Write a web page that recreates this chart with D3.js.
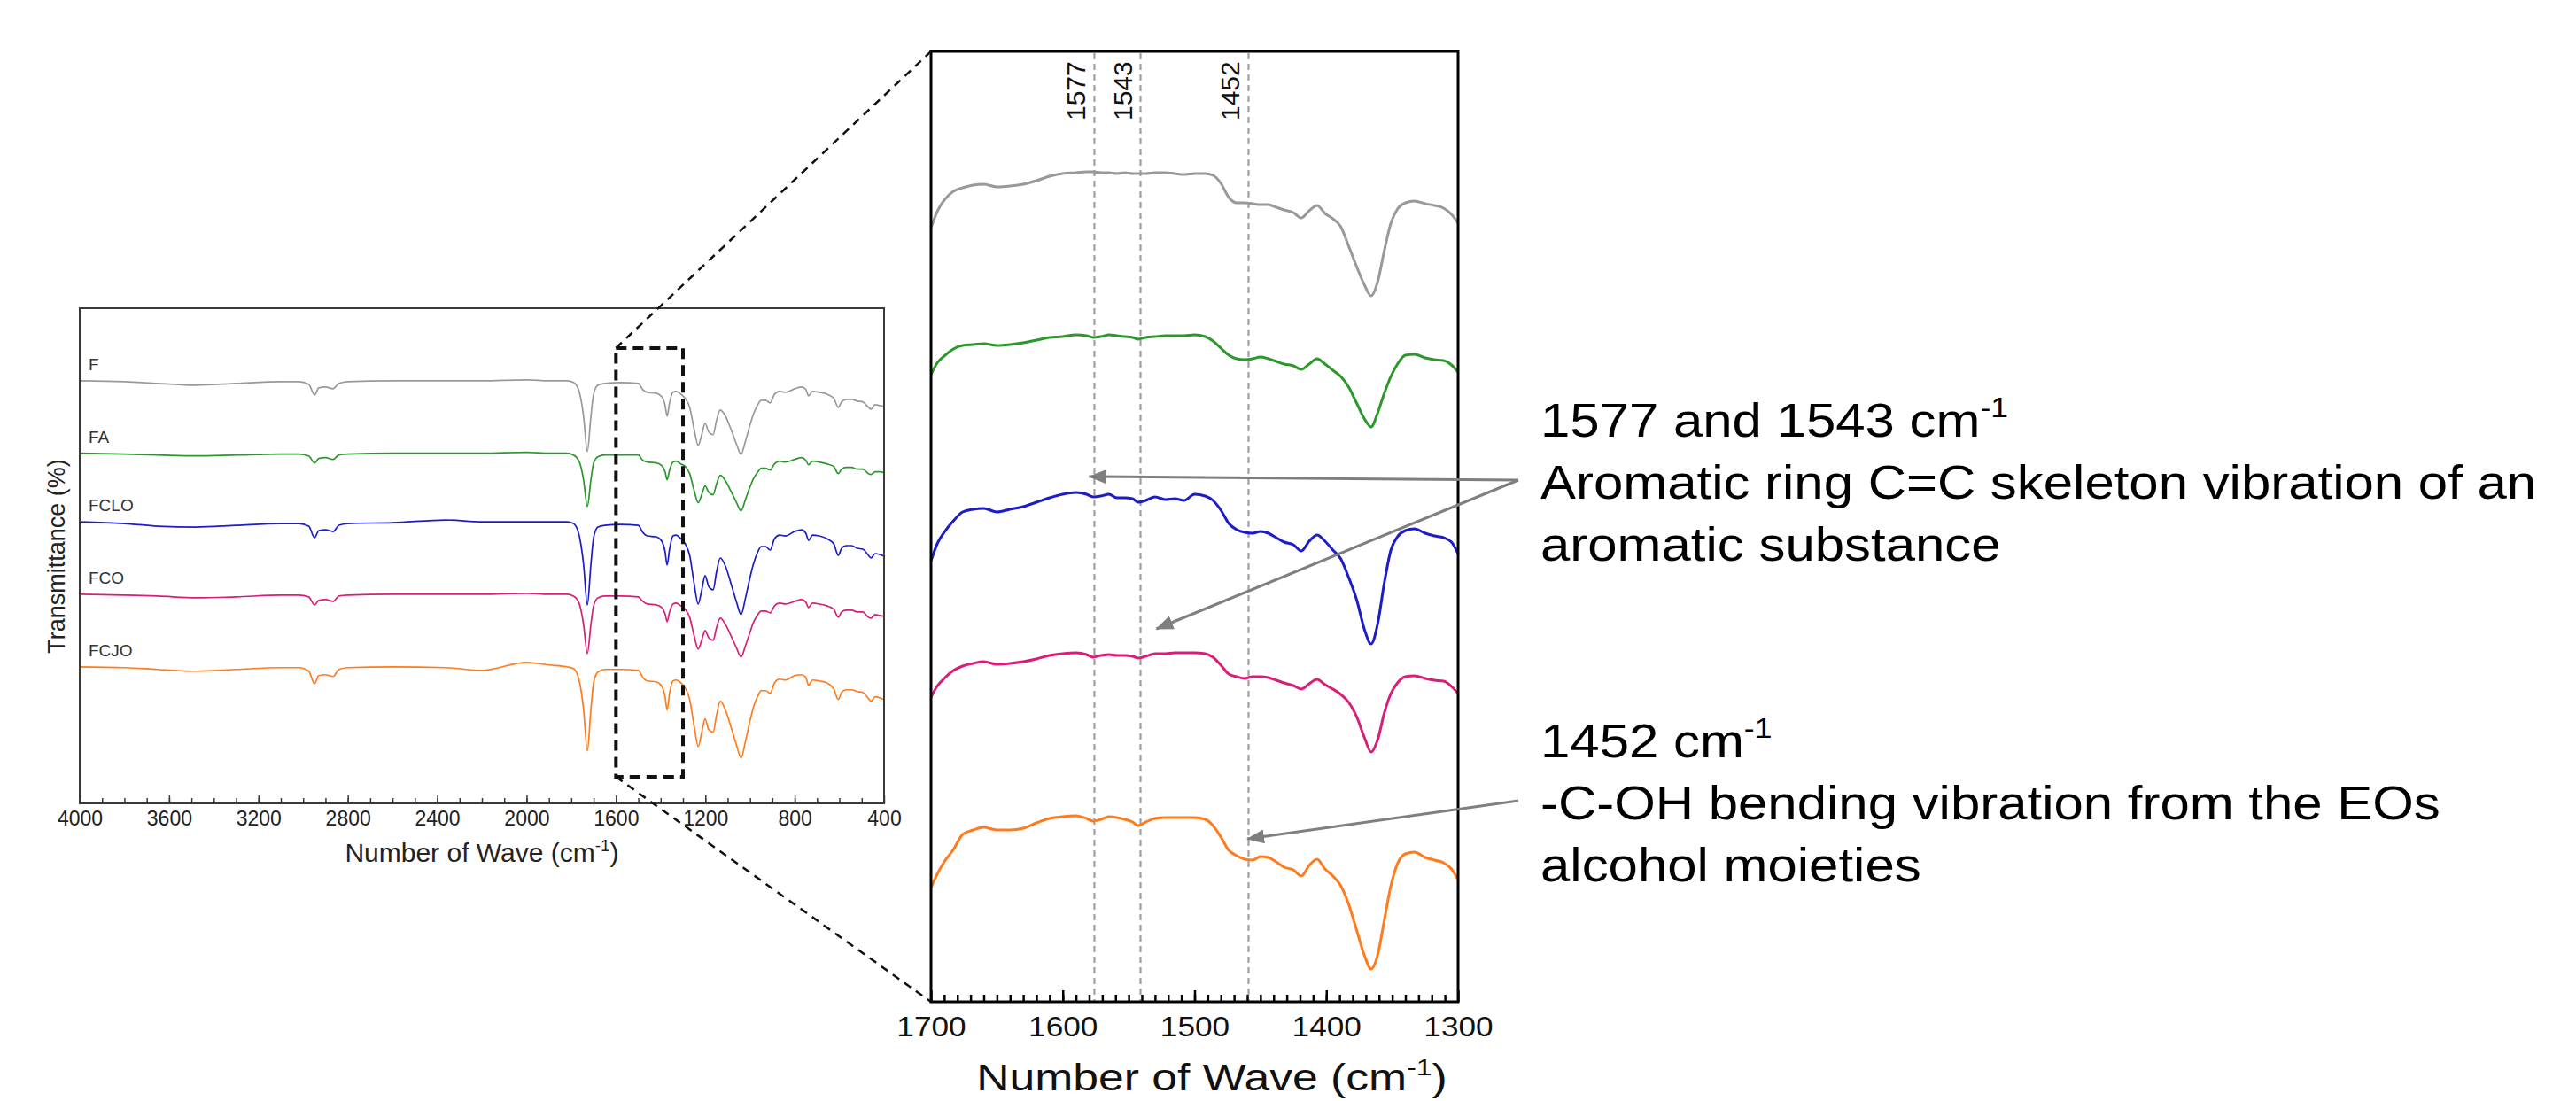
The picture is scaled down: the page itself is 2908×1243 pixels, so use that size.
<!DOCTYPE html>
<html>
<head>
<meta charset="utf-8">
<script src="https://cdn.jsdelivr.net/npm/d3@7"></script>
<style>
  body { margin: 0; background: #fff; }
  text { font-family: "Liberation Sans", Arial, sans-serif; }
</style>
</head>
<body>
<svg id="fig" width="2908" height="1243"></svg>
<script>
// ---- data ----
const seriesNames = ['F', 'FA', 'FCLO', 'FCO', 'FCJO'];
const seriesColors = ['#999999', '#2b982b', '#1c1cc8', '#d81e78', '#ff7b1c'];

// full spectra, 4000-400 cm-1 (stacked transmittance, arbitrary units)
const fullWave = [4000, 3800, 3650, 3480, 3300, 3100, 3020, 2975, 2949, 2930, 2900, 2866, 2840, 2800, 2600,
  2360, 2200, 2000, 1900, 1820, 1790, 1765, 1745, 1728, 1712, 1700, 1681, 1650, 1580, 1500, 1480, 1460, 1420,
  1395, 1380, 1371, 1360, 1345, 1330, 1310, 1290, 1270, 1250, 1232, 1215, 1201, 1185, 1165, 1150, 1133, 1110,
  1085, 1060, 1040, 1020, 1000, 985, 965, 950, 930, 910, 890, 868, 842, 800, 769, 750, 738, 720, 690, 657, 625,
  605, 590, 570, 545, 520, 495, 470, 458, 440, 420, 400];
const fullF = [95.6, 95.4, 95.0, 94.6, 95.0, 95.4, 95.4, 94.8, 92.4, 94.0, 94.2, 93.8, 95.0, 95.4, 95.6,
  95.6, 95.6, 95.8, 95.6, 95.6, 95.2, 93.2, 87.6, 79.6, 87.6, 92.6, 94.6, 95.0, 95.2, 95.0, 93.6, 93.0, 92.8,
  92.0, 90.0, 87.6, 90.6, 93.0, 93.2, 92.6, 91.6, 89.6, 84.6, 81.0, 83.6, 86.0, 84.0, 83.4, 86.6, 89.0, 87.6,
  84.6, 81.2, 79.0, 82.0, 85.6, 88.0, 90.2, 91.2, 91.2, 90.6, 92.6, 93.2, 93.0, 93.8, 94.2, 93.6, 92.2, 93.2,
  93.0, 92.6, 91.6, 89.6, 90.8, 91.4, 91.4, 91.0, 90.8, 89.6, 89.2, 90.2, 90.0, 89.8];
const fullFA = [79.2, 79.0, 78.8, 78.6, 78.8, 79.0, 79.0, 78.6, 77.0, 78.0, 78.2, 77.8, 78.8, 79.0, 79.2,
  79.2, 79.2, 79.4, 79.2, 79.2, 78.8, 77.4, 73.2, 67.2, 73.2, 77.0, 78.4, 78.8, 78.8, 78.8, 77.6, 77.2, 77.0,
  76.4, 75.0, 73.2, 75.4, 77.2, 77.4, 76.8, 76.2, 74.6, 70.8, 68.0, 70.0, 71.8, 70.4, 69.8, 72.2, 74.2, 73.0,
  70.6, 68.0, 66.2, 68.8, 71.6, 73.4, 75.0, 75.8, 75.8, 75.4, 76.8, 77.4, 77.2, 77.8, 78.2, 77.6, 76.6, 77.4,
  77.2, 76.8, 76.2, 74.6, 75.6, 76.0, 76.0, 75.6, 75.6, 74.6, 74.4, 75.0, 75.0, 74.8];
const fullFCLO = [63.7, 63.3, 62.7, 62.5, 62.9, 63.3, 63.3, 62.7, 60.1, 61.7, 61.9, 61.5, 62.9, 63.3, 63.5,
  64.1, 63.7, 63.7, 63.7, 63.7, 63.3, 60.7, 54.1, 44.9, 54.1, 60.1, 62.5, 62.9, 63.1, 62.9, 61.3, 60.5, 60.3,
  59.3, 56.9, 53.9, 57.5, 60.5, 60.7, 59.9, 58.7, 56.1, 49.7, 45.1, 48.5, 51.5, 49.1, 48.3, 52.3, 55.5, 53.7,
  49.7, 45.5, 42.7, 46.5, 51.1, 54.1, 56.9, 58.1, 58.1, 57.3, 59.9, 60.7, 60.5, 61.5, 61.9, 61.1, 59.5, 60.7,
  60.5, 59.9, 58.7, 56.1, 57.7, 58.3, 58.3, 57.7, 57.5, 56.1, 55.5, 56.5, 56.3, 55.9];
const fullFCO = [47.3, 47.1, 46.9, 46.5, 46.7, 47.1, 47.1, 46.7, 44.9, 45.9, 46.1, 45.7, 46.9, 47.1, 47.3,
  47.3, 47.3, 47.5, 47.3, 47.3, 46.9, 45.3, 40.5, 33.9, 40.5, 44.7, 46.5, 46.9, 46.9, 46.7, 45.7, 45.1, 44.9,
  44.3, 42.9, 41.1, 43.3, 45.1, 45.3, 44.7, 43.9, 42.1, 37.9, 34.9, 37.1, 39.1, 37.5, 36.9, 39.7, 41.9, 40.5,
  37.9, 35.1, 33.1, 35.7, 38.7, 40.9, 42.7, 43.5, 43.5, 43.1, 44.7, 45.3, 45.1, 45.7, 46.1, 45.5, 44.3, 45.3,
  45.1, 44.7, 43.9, 42.1, 43.3, 43.7, 43.7, 43.3, 43.3, 42.1, 41.9, 42.7, 42.5, 42.3];
const fullFCJO = [30.9, 30.7, 30.3, 29.9, 30.3, 30.7, 30.7, 29.9, 27.1, 28.9, 29.1, 28.7, 30.3, 30.7, 30.9,
  30.7, 30.1, 31.9, 31.3, 30.9, 30.5, 27.9, 21.3, 11.9, 21.3, 27.3, 29.7, 30.3, 30.3, 30.1, 28.5, 27.7, 27.5,
  26.5, 24.1, 21.1, 24.9, 27.7, 27.9, 27.3, 26.1, 23.5, 17.5, 12.9, 16.3, 19.1, 16.7, 16.1, 19.9, 23.1, 21.1,
  17.3, 13.1, 10.3, 14.1, 18.7, 21.7, 24.3, 25.5, 25.5, 24.9, 27.3, 28.1, 27.9, 28.9, 29.1, 28.5, 26.7, 27.9,
  27.7, 27.3, 25.9, 23.5, 25.1, 25.7, 25.7, 25.3, 25.1, 23.7, 23.1, 24.1, 23.9, 23.5];

// enlarged region, 1700-1300 cm-1
const zoomWave = [1700, 1695, 1690, 1683, 1676, 1668, 1660, 1650, 1640, 1630, 1620, 1610, 1600, 1590, 1582,
  1577, 1571, 1565, 1559, 1553, 1547, 1543, 1537, 1530, 1522, 1515, 1508, 1500, 1492, 1486, 1480, 1474, 1468,
  1462, 1456, 1450, 1444, 1438, 1432, 1425, 1419, 1413, 1407, 1401, 1395, 1389, 1383, 1377, 1371, 1366, 1361,
  1356, 1351, 1346, 1340, 1333, 1325, 1318, 1311, 1305, 1300];
const zoomF = [87.4, 89.3, 90.5, 91.5, 91.9, 92.2, 92.3, 92.0, 92.1, 92.3, 92.7, 93.2, 93.5, 93.6, 93.7,
  93.7, 93.6, 93.6, 93.5, 93.6, 93.5, 93.5, 93.5, 93.6, 93.6, 93.5, 93.4, 93.5, 93.5, 93.3, 92.4, 90.8, 90.2,
  90.2, 90.1, 90.0, 90.0, 89.7, 89.4, 89.1, 88.5, 89.3, 89.9, 89.0, 88.4, 87.5, 85.3, 83.0, 80.9, 79.7, 81.3,
  84.8, 87.9, 89.5, 90.2, 90.4, 90.1, 89.9, 89.6, 88.9, 87.9];
const zoomFA = [70.8, 72.2, 72.9, 73.7, 74.1, 74.2, 74.3, 74.1, 74.2, 74.4, 74.7, 75.0, 75.1, 75.3, 75.2,
  75.0, 75.1, 75.3, 75.2, 75.1, 75.0, 74.8, 75.0, 75.1, 75.2, 75.2, 75.2, 75.3, 75.1, 74.6, 73.8, 73.0, 72.6,
  72.5, 72.6, 72.8, 72.6, 72.3, 72.0, 71.8, 71.4, 72.0, 72.6, 72.0, 71.3, 70.6, 69.4, 67.6, 65.8, 64.9, 66.5,
  68.7, 70.6, 72.0, 73.0, 73.1, 72.7, 72.5, 72.4, 71.9, 71.1];
const zoomFCLO = [49.8, 51.8, 53.0, 54.3, 55.3, 55.6, 55.7, 55.3, 55.6, 55.9, 56.4, 56.9, 57.3, 57.5, 57.3,
  57.0, 57.1, 57.3, 56.9, 56.9, 56.8, 56.4, 56.6, 57.0, 56.7, 56.8, 56.6, 57.3, 57.1, 56.6, 55.5, 54.0, 53.3,
  53.0, 52.9, 53.1, 52.9, 52.4, 51.9, 51.6, 50.9, 52.0, 52.7, 52.0, 51.0, 50.0, 47.9, 45.4, 42.0, 40.4, 42.7,
  47.3, 51.0, 52.5, 53.2, 53.4, 52.9, 52.6, 52.4, 51.9, 50.6];
const zoomFCO = [34.4, 35.7, 36.5, 37.4, 37.9, 38.2, 38.4, 38.1, 38.2, 38.4, 38.7, 39.1, 39.3, 39.4, 39.2,
  38.9, 39.1, 39.2, 39.1, 39.1, 39.0, 38.8, 39.0, 39.3, 39.3, 39.4, 39.4, 39.4, 39.3, 38.9, 38.0, 37.0, 36.7,
  36.5, 36.7, 36.7, 36.6, 36.3, 36.0, 35.7, 35.3, 35.9, 36.4, 35.8, 35.3, 34.7, 33.8, 32.2, 29.8, 28.2, 29.6,
  32.6, 34.8, 36.0, 36.7, 36.8, 36.5, 36.3, 36.2, 35.6, 34.8];
const zoomFCJO = [12.9, 14.5, 15.8, 17.2, 18.9, 19.4, 19.7, 19.4, 19.4, 19.6, 20.2, 20.7, 20.9, 21.0, 20.7,
  20.4, 20.6, 20.9, 20.8, 20.6, 20.3, 19.9, 20.3, 20.7, 20.8, 20.8, 20.8, 20.8, 20.6, 19.9, 18.6, 17.1, 16.5,
  16.1, 16.0, 16.4, 16.3, 15.8, 15.2, 14.9, 14.2, 15.4, 16.1, 15.0, 14.2, 13.1, 11.0, 8.1, 5.2, 3.7, 5.3,
  9.2, 13.1, 15.6, 16.7, 16.9, 16.3, 16.0, 15.7, 15.0, 13.8];

const fullTicks = [4000, 3600, 3200, 2800, 2400, 2000, 1600, 1200, 800, 400];
const zoomTicks = [1700, 1600, 1500, 1400, 1300];
const boxRange = [1600, 1300];
const markerWave = [1576, 1541, 1459];
const markerLabels = ['1577', '1543', '1452'];

const noteHeads = ['1577 and 1543 cm', '1452 cm'];
const noteBodies = [
  ['Aromatic ring C=C skeleton vibration of an', 'aromatic substance'],
  ['-C-OH bending vibration from the EOs', 'alcohol moieties']
];
// arrow targets in the enlarged chart (wavenumber, y units); which note each belongs to
const arrowWave = [1580, 1529, 1460];
const arrowY = [59.3, 42.1, 18.4];
const arrowNote = [0, 0, 1];

const fullSeries = [fullF, fullFA, fullFCLO, fullFCO, fullFCJO];
const zoomSeries = [zoomF, zoomFA, zoomFCLO, zoomFCO, zoomFCJO];

// ---- drawing ----
const svg = d3.select('#fig');
const grey = '#7f7f7f';

svg.append('defs').append('marker')
  .attr('id', 'head')
  .attr('markerUnits', 'userSpaceOnUse')
  .attr('viewBox', '0 0 20 16')
  .attr('markerWidth', 20)
  .attr('markerHeight', 16)
  .attr('refX', 19)
  .attr('refY', 8)
  .attr('orient', 'auto')
  .append('path')
  .attr('d', 'M0,0 L20,8 L0,16 Z')
  .attr('fill', grey);

// left overview chart
const xFull = d3.scaleLinear().domain([4000, 400]).range([90, 998]);
const yFull = d3.scaleLinear().domain([0, 112]).range([907, 348]);

const left = svg.append('g').attr('class', 'overview');

const fullLine = d3.line()
  .x((d, i) => xFull(fullWave[i]))
  .y(d => yFull(d))
  .curve(d3.curveMonotoneX);

left.selectAll('.spec')
  .data(fullSeries)
  .enter().append('path')
  .attr('class', 'spec')
  .attr('d', fullLine)
  .attr('fill', 'none')
  .attr('stroke', (d, i) => seriesColors[i])
  .attr('stroke-width', 1.7);

// series labels sit just above each baseline
left.selectAll('.lab')
  .data(fullSeries)
  .enter().append('text')
  .attr('class', 'lab')
  .attr('x', xFull(4000) + 10)
  .attr('y', d => yFull(d[0]) - 12)
  .attr('font-size', 19)
  .attr('fill', '#333')
  .text((d, i) => seriesNames[i]);

left.append('rect')
  .attr('x', 90).attr('y', 348)
  .attr('width', 908).attr('height', 559)
  .attr('fill', 'none')
  .attr('stroke', '#3a3a3a')
  .attr('stroke-width', 2);

const axFull = left.append('g')
  .attr('transform', 'translate(0,907)')
  .call(d3.axisBottom(xFull).tickValues(fullTicks).tickSize(-9).tickPadding(9).tickFormat(d3.format('d')));
left.append('g')
  .attr('transform', 'translate(0,907)')
  .call(d3.axisBottom(xFull).tickValues(d3.range(3900, 400, -100)).tickSize(-6).tickFormat(''))
  .call(g => g.select('.domain').remove());
axFull.select('.domain').remove();
axFull.selectAll('text').attr('font-size', 23).attr('fill', '#222')
  .attr('font-family', '"Liberation Sans", Arial, sans-serif');
left.selectAll('.tick line').attr('stroke', '#3a3a3a').attr('stroke-width', 1.5);

const lt = left.append('text')
  .attr('x', 544).attr('y', 973)
  .attr('text-anchor', 'middle')
  .attr('font-size', 30)
  .attr('fill', '#222');
lt.append('tspan').text('Number of Wave (cm');
lt.append('tspan').attr('dy', -12).attr('font-size', 19).text('-1');
lt.append('tspan').attr('dy', 12).text(')');

left.append('text')
  .attr('transform', 'translate(73,628) rotate(-90)')
  .attr('text-anchor', 'middle')
  .attr('font-size', 27)
  .attr('fill', '#222')
  .text('Transmittance (%)');

// right enlarged chart
const xZoom = d3.scaleLinear().domain([1700, 1300]).range([1051, 1646]);
const yZoom = d3.scaleLinear().domain([0, 107.3]).range([1131, 58]);
const right = svg.append('g').attr('class', 'zoom');

right.selectAll('.mark')
  .data(markerWave)
  .enter().append('line')
  .attr('class', 'mark')
  .attr('x1', d => xZoom(d)).attr('x2', d => xZoom(d))
  .attr('y1', 60).attr('y2', 1131)
  .attr('stroke', '#a0a0a0')
  .attr('stroke-width', 2.2)
  .attr('stroke-dasharray', '7,5');

right.selectAll('.markLab')
  .data(markerWave)
  .enter().append('text')
  .attr('class', 'markLab')
  .attr('transform', d => `translate(${xZoom(d) - 10},136) rotate(-90)`)
  .attr('font-size', 30)
  .attr('fill', '#111')
  .text((d, i) => markerLabels[i]);

const zoomLine = d3.line()
  .x((d, i) => xZoom(zoomWave[i]))
  .y(d => yZoom(d))
  .curve(d3.curveMonotoneX);

right.selectAll('.spec')
  .data(zoomSeries)
  .enter().append('path')
  .attr('class', 'spec')
  .attr('d', zoomLine)
  .attr('fill', 'none')
  .attr('stroke', (d, i) => seriesColors[i])
  .attr('stroke-width', 3);

right.append('rect')
  .attr('x', 1051).attr('y', 58)
  .attr('width', 595).attr('height', 1073)
  .attr('fill', 'none')
  .attr('stroke', '#000')
  .attr('stroke-width', 3);

const axZoom = right.append('g')
  .attr('transform', 'translate(0,1131)')
  .call(d3.axisBottom(xZoom).tickValues(zoomTicks).tickSize(-13).tickPadding(16).tickFormat(d3.format('d')));
right.append('g')
  .attr('transform', 'translate(0,1131)')
  .call(d3.axisBottom(xZoom).tickValues(d3.range(1690, 1300, -10)).tickSize(-8).tickFormat(''))
  .call(g => g.select('.domain').remove());
axZoom.select('.domain').remove();
right.selectAll('.tick line').attr('stroke', '#000').attr('stroke-width', 2.5);
axZoom.selectAll('text').attr('font-size', 32).attr('fill', '#111')
  .attr('font-family', '"Liberation Sans", Arial, sans-serif')
  .attr('transform', 'scale(1.1,1)');

const rt = right.append('text')
  .attr('transform', 'translate(1368,1231) scale(1.23,1)')
  .attr('text-anchor', 'middle')
  .attr('font-size', 42)
  .attr('fill', '#111');
rt.append('tspan').text('Number of Wave (cm');
rt.append('tspan').attr('dy', -17).attr('font-size', 26).text('-1');
rt.append('tspan').attr('dy', 17).text(')');

// zoom connectors and dashed box
const conn = svg.append('g');
conn.append('rect')
  .attr('x', xFull(boxRange[0])).attr('y', yFull(103))
  .attr('width', xFull(boxRange[1]) - xFull(boxRange[0]))
  .attr('height', yFull(6) - yFull(103))
  .attr('fill', 'none')
  .attr('stroke', '#111')
  .attr('stroke-width', 4)
  .attr('stroke-dasharray', '12,7');
conn.append('line')
  .attr('x1', xFull(boxRange[0])).attr('y1', yFull(103))
  .attr('x2', xZoom(1700)).attr('y2', yZoom(107.3))
  .attr('stroke', '#111').attr('stroke-width', 2.5).attr('stroke-dasharray', '9,7');
conn.append('line')
  .attr('x1', xFull(boxRange[0])).attr('y1', yFull(6))
  .attr('x2', xZoom(1700)).attr('y2', yZoom(0))
  .attr('stroke', '#111').attr('stroke-width', 2.5).attr('stroke-dasharray', '9,7');

// annotations
const noteX = 1739;
const noteTop = [493, 855];
const lineGap = 70;
const notes = svg.append('g');

noteHeads.forEach((head, k) => {
  const g = notes.append('g')
    .attr('transform', `translate(${noteX},${noteTop[k]}) scale(1.11,1)`);
  const t = g.append('text').attr('font-size', 54).attr('fill', '#000');
  t.append('tspan').text(head);
  t.append('tspan').attr('dy', -22).attr('font-size', 32).text('-1');
  noteBodies[k].forEach((line, j) => {
    g.append('text')
      .attr('y', lineGap * (j + 1))
      .attr('font-size', 54)
      .attr('fill', '#000')
      .text(line);
  });
});

notes.selectAll('.arrow')
  .data(arrowWave)
  .enter().append('line')
  .attr('class', 'arrow')
  .attr('x1', (d, i) => noteX - 25)
  .attr('y1', (d, i) => noteTop[arrowNote[i]] + lineGap - 21)
  .attr('x2', d => xZoom(d))
  .attr('y2', (d, i) => yZoom(arrowY[i]))
  .attr('stroke', grey)
  .attr('stroke-width', 3)
  .attr('marker-end', 'url(#head)');
</script>
</body>
</html>
